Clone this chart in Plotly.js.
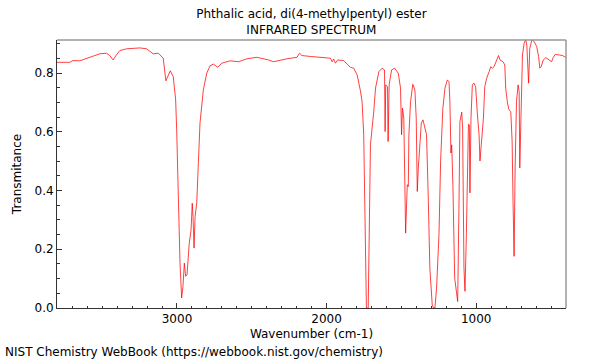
<!DOCTYPE html>
<html>
<head>
<meta charset="utf-8">
<script src="https://cdn.plot.ly/plotly-3.0.1.min.js"></script>
<style>html,body{margin:0;padding:0;background:#fff}#chart{width:600px;height:360px}</style>
</head>
<body>
<div id="chart"></div>
<script>
const titleLines = ["Phthalic acid, di(4-methylpentyl) ester", "INFRARED SPECTRUM"];
const xLabel = "Wavenumber (cm-1)";
const yLabel = "Transmitance";
const footer = "NIST Chemistry WebBook (https://webbook.nist.gov/chemistry)";

const wavenumber = [3802,3717,3695,3650,3516,3471,3449,3427,3405,3382,3337,3248,3203,3159,3125,3092,3074,3062,3045,3025,3009,3002,2991,2980,2969,2960,2951,2942,2933,2918,2906,2898,2893,2886,2879,2868,2857,2846,2824,2801,2779,2757,2727,2701,2645,2589,2533,2466,2388,2355,2265,2198,2181,2165,2109,1997,1975,1963,1953,1941,1926,1886,1868,1841,1819,1796,1774,1763,1752,1745,1740,1734,1722,1718,1707,1685,1673,1651,1629,1613,1609,1605,1593,1589,1582,1566,1546,1521,1506,1499,1493,1484,1472,1461,1454,1450,1439,1424,1410,1401,1394,1387,1379,1367,1356,1343,1332,1320,1310,1294,1285,1276,1265,1249,1238,1223,1209,1193,1182,1176,1169,1164,1156,1144,1133,1124,1115,1109,1097,1091,1082,1075,1066,1057,1052,1046,1042,1035,1026,1015,1004,992,981,975,965,952,943,930,914,903,892,881,863,851,841,821,809,803,791,781,769,760,754,747,740,731,720,713,709,702,691,680,669,662,650,642,628,613,596,583,575,566,552,535,512,496,486,472,445,423,400];
const transmittance = [0.837,0.837,0.843,0.842,0.866,0.868,0.860,0.845,0.862,0.877,0.883,0.886,0.883,0.866,0.868,0.851,0.774,0.788,0.808,0.788,0.709,0.607,0.380,0.154,0.034,0.074,0.153,0.108,0.113,0.221,0.266,0.357,0.312,0.204,0.312,0.358,0.495,0.631,0.743,0.800,0.825,0.831,0.820,0.834,0.842,0.839,0.849,0.854,0.845,0.839,0.849,0.854,0.868,0.860,0.857,0.854,0.851,0.839,0.848,0.834,0.845,0.843,0.834,0.820,0.817,0.794,0.740,0.703,0.590,0.363,0.137,0.000,0.000,0.193,0.556,0.669,0.749,0.805,0.817,0.811,0.601,0.760,0.754,0.567,0.760,0.811,0.817,0.800,0.749,0.590,0.681,0.647,0.255,0.420,0.414,0.590,0.703,0.762,0.743,0.647,0.397,0.477,0.545,0.630,0.641,0.618,0.590,0.363,0.136,0.010,0.000,0.000,0.068,0.250,0.500,0.681,0.749,0.777,0.771,0.703,0.528,0.556,0.420,0.102,0.045,0.022,0.363,0.635,0.667,0.613,0.136,0.057,0.250,0.590,0.626,0.624,0.392,0.647,0.760,0.766,0.754,0.658,0.590,0.501,0.567,0.647,0.754,0.783,0.805,0.822,0.817,0.822,0.845,0.860,0.845,0.839,0.828,0.749,0.698,0.675,0.669,0.567,0.363,0.176,0.477,0.703,0.760,0.737,0.477,0.647,0.862,0.902,0.913,0.896,0.766,0.885,0.913,0.908,0.891,0.857,0.817,0.822,0.845,0.853,0.845,0.839,0.853,0.864,0.862,0.860,0.853];

const font = "DejaVu Sans, sans-serif";

const trace = {
  x: wavenumber, y: transmittance, type: "scatter", mode: "lines",
  line: {color: "rgba(255,0,0,0.75)", width: 1},
  hoverinfo: "skip"
};

const layout = {
  width: 600, height: 360,
  margin: {l: 57, r: 34, t: 40, b: 52, pad: 0},
  paper_bgcolor: "#fff", plot_bgcolor: "#fff",
  font: {family: font, size: 12, color: "#000"},
  showlegend: false,
  title: {text: titleLines.join("<br>"), font: {family: font, size: 12, color: "#000"},
          x: 0.519, xanchor: "center", y: 0.949, yanchor: "top"},
  xaxis: {
    range: [3802, 400], showgrid: false, zeroline: false,
    showline: true, linecolor: "#333", linewidth: 1, mirror: false,
    ticks: "inside", ticklen: 5, tickcolor: "#333", tickwidth: 1,
    tick0: 0, dtick: 1000,
    minor: {ticks: "inside", ticklen: 2.5, tickcolor: "#333", dtick: 100, tick0: 0, showgrid: false},
    tickfont: {family: font, size: 12, color: "#000"},
    title: {text: xLabel, font: {family: font, size: 12, color: "#000"}, standoff: 4}
  },
  yaxis: {
    range: [0, 0.913], showgrid: false, zeroline: false,
    showline: true, linecolor: "#333", linewidth: 1, mirror: false,
    ticks: "inside", ticklen: 5, tickcolor: "#333", tickwidth: 1,
    tick0: 0, dtick: 0.2, tickformat: ".1f",
    minor: {ticks: "inside", ticklen: 2.5, tickcolor: "#333", dtick: 0.05, tick0: 0, showgrid: false},
    tickfont: {family: font, size: 12, color: "#000"},
    title: {text: yLabel, font: {family: font, size: 12, color: "#000"}, standoff: 10}
  },
  shapes: [
    {type: "line", xref: "paper", yref: "paper", x0: 0, x1: 1, y0: 1, y1: 1, line: {color: "#999", width: 1.5}},
    {type: "line", xref: "paper", yref: "paper", x0: 1, x1: 1, y0: 0, y1: 1, line: {color: "#999", width: 1.5}}
  ],
  annotations: [
    {text: footer, xref: "paper", yref: "paper", x: -0.106, y: -0.164, xanchor: "left", yanchor: "middle",
     showarrow: false, font: {family: font, size: 12, color: "#000"}}
  ]
};

Plotly.newPlot("chart", [trace], layout, {staticPlot: true, displayModeBar: false});
</script>
</body>
</html>
